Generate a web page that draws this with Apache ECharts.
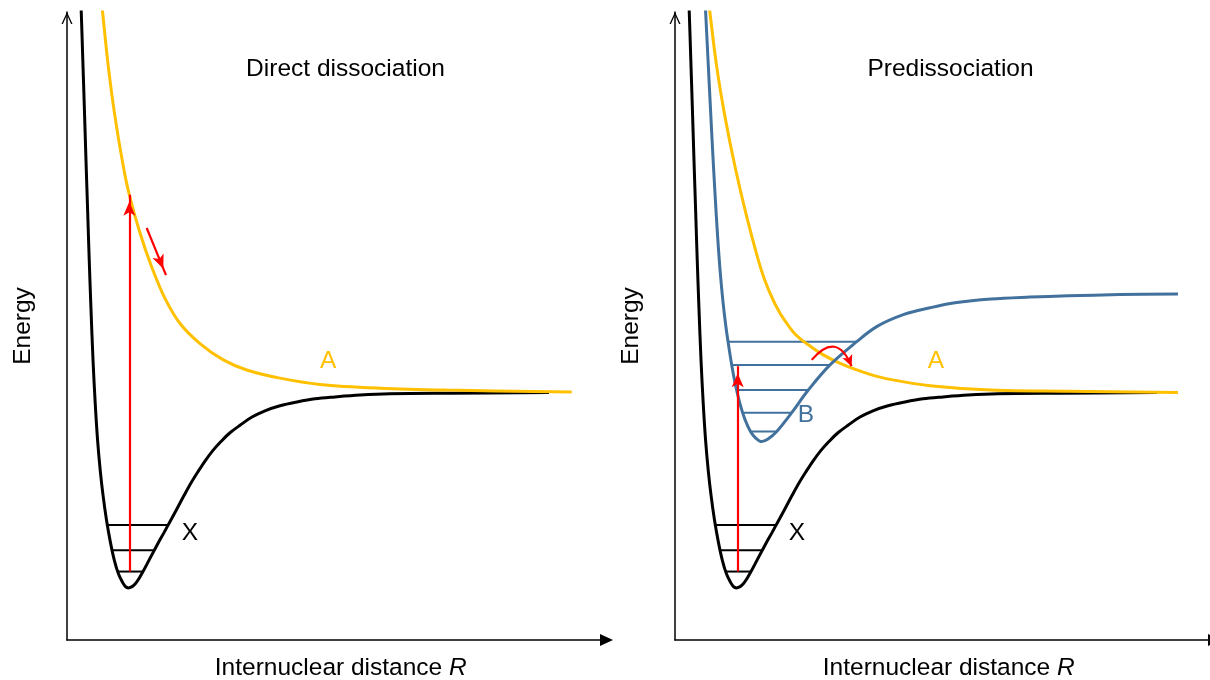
<!DOCTYPE html>
<html>
<head>
<meta charset="utf-8">
<script src="https://cdn.jsdelivr.net/npm/echarts@6/dist/echarts.min.js"></script>
<style>
  html, body { margin: 0; padding: 0; background: #ffffff; }
  #chart { width: 1210px; height: 680px; }
</style>
</head>
<body>
<div id="chart"></div>
<script>
// Potential energy curves, [R, E] in arbitrary units (axes run 0..10).

// Ground state X (same in both panels)
const groundX = [
  [0.252, 10.27], [0.265, 9.98], [0.293, 9.24], [0.323, 8.44], [0.352, 7.64],
  [0.382, 6.85], [0.412, 6.05], [0.445, 5.26], [0.482, 4.46], [0.525, 3.74],
  [0.567, 3.18], [0.615, 2.71], [0.667, 2.31], [0.732, 1.91], [0.806, 1.55],
  [0.880, 1.26], [0.955, 1.05], [1.029, 0.92], [1.084, 0.85], [1.136, 0.83],
  [1.205, 0.85], [1.270, 0.90], [1.335, 0.98], [1.409, 1.09], [1.538, 1.30],
  [1.668, 1.51], [1.798, 1.71], [1.918, 1.90], [2.039, 2.09], [2.169, 2.30],
  [2.298, 2.50], [2.428, 2.68], [2.558, 2.85], [2.706, 3.02], [2.854, 3.16],
  [3.021, 3.30], [3.207, 3.42], [3.429, 3.55], [3.670, 3.65], [3.948, 3.73],
  [4.263, 3.79], [4.597, 3.84], [4.968, 3.87], [5.431, 3.90], [5.987, 3.92],
  [7.099, 3.93], [8.934, 3.94]
];
// Vibrational levels of X: [E, R left, R right]
const groundLevels = [
  [1.83, 0.749, 1.871],
  [1.43, 0.835, 1.624],
  [1.09, 0.937, 1.409]
];

// Repulsive state A, left panel
const repulsiveDirect = [
  [0.628, 10.27], [0.662, 9.98], [0.766, 9.13], [0.890, 8.33], [1.044, 7.54],
  [1.155, 7.09], [1.353, 6.48], [1.570, 5.94], [1.816, 5.44], [2.095, 5.04],
  [2.465, 4.72], [2.897, 4.46], [3.331, 4.30], [3.948, 4.17], [4.690, 4.07],
  [5.802, 4.01], [7.038, 3.98], [9.355, 3.95]
];

// Repulsive state A, right panel
const repulsivePre = [
  [0.615, 10.27], [0.649, 9.98], [0.773, 9.13], [0.927, 8.33], [1.112, 7.54],
  [1.329, 6.74], [1.544, 6.05], [1.668, 5.72], [1.798, 5.45], [1.928, 5.23],
  [2.057, 5.06], [2.187, 4.91], [2.317, 4.80], [2.521, 4.67], [2.749, 4.54],
  [3.021, 4.42], [3.305, 4.32], [3.614, 4.23], [3.985, 4.15], [4.727, 4.05],
  [5.857, 3.98], [7.284, 3.96], [9.323, 3.94]
];

// Bound excited state B, right panel
const boundB = [
  [0.552, 10.27], [0.569, 9.98], [0.612, 9.24], [0.654, 8.52], [0.697, 7.80],
  [0.741, 7.12], [0.788, 6.45], [0.838, 5.86], [0.890, 5.38], [0.945, 4.98],
  [1.001, 4.65], [1.057, 4.35], [1.121, 4.06], [1.205, 3.76], [1.297, 3.51],
  [1.399, 3.32], [1.492, 3.22], [1.607, 3.16], [1.724, 3.20], [1.885, 3.32],
  [2.163, 3.62], [2.471, 3.98], [2.873, 4.38], [3.368, 4.75], [3.739, 4.99],
  [4.232, 5.18], [4.727, 5.29], [5.190, 5.37], [5.857, 5.43], [6.580, 5.46],
  [7.284, 5.48], [8.248, 5.50], [9.323, 5.51]
];
// Vibrational levels of B: [E, R left, R right]
const boundLevels = [
  [4.75, 0.984, 3.368],
  [4.38, 1.051, 2.873],
  [3.98, 1.144, 2.471],
  [3.62, 1.257, 2.163],
  [3.32, 1.402, 1.885]
];

// Arrows: [start, end] as [R, E]
const excitationDirect = [[1.155, 1.09], [1.155, 7.09]];
const slideDirect = [[1.477, 6.56], [1.835, 5.81]];
const excitationPre = [[1.162, 1.09], [1.162, 4.36]];
const crossingPre = [[2.534, 4.46], [3.272, 4.36]];

// State labels: [text, R, E, colour]
const labelsDirect = [['A', 4.843, 4.44, '#FFC000'], ['X', 2.280, 1.70, '#000000']];
const labelsPre = [['A', 4.838, 4.44, '#FFC000'], ['B', 2.428, 3.58, '#41719C'], ['X', 2.261, 1.70, '#000000']];

const panelTitles = ['Direct dissociation', 'Predissociation'];
const xName = 'Internuclear distance {it|R}';
const yName = 'Energy';

const FONT = "'Liberation Sans', Arial, sans-serif";
const FS = 24.5;
const BLACK = '#000000', GOLD = '#FFC000', BLUE = '#41719C', RED = '#FF0000';

function curve(data, color, g) {
  return {
    type: 'line', xAxisIndex: g, yAxisIndex: g, data: data,
    symbol: 'none', showSymbol: false, smooth: 0.35,
    lineStyle: { color: color, width: 3 }, silent: true, clip: true, z: 3
  };
}
function levels(list, color, g) {
  return list.map(function (l) {
    return {
      type: 'line', xAxisIndex: g, yAxisIndex: g,
      data: [[l[1], l[0]], [l[2], l[0]]],
      symbol: 'none', showSymbol: false,
      lineStyle: { color: color, width: 2 }, silent: true, z: 2
    };
  });
}
function straightArrows(list, g) {
  return {
    type: 'line', xAxisIndex: g, yAxisIndex: g, data: [], silent: true, z: 6,
    markLine: {
      silent: true, animation: false,
      symbol: ['none', 'arrow'],
      label: { show: false },
      emphasis: { disabled: true },
      lineStyle: { color: RED, width: 2.2, type: 'solid' },
      data: list.map(function (a) {
        return [
          { coord: a[0], symbol: 'none' },
          { coord: a[1], symbol: 'arrow', symbolSize: [9, 14], symbolOffset: [0, 7] }
        ];
      })
    }
  };
}
function stateLabels(list, g) {
  return {
    type: 'scatter', xAxisIndex: g, yAxisIndex: g, silent: true, z: 7,
    symbolSize: 1, itemStyle: { color: 'rgba(0,0,0,0)', opacity: 1 },
    data: list.map(function (l) {
      return { name: l[0], value: [l[1], l[2]], label: { color: l[3] } };
    }),
    label: { show: true, position: 'inside', formatter: '{b}', fontSize: FS, fontFamily: FONT,
      opacity: 1, textBorderWidth: 0 }
  };
}

const axisText = { fontSize: FS, color: BLACK, fontFamily: FONT };
function xAxis(g) {
  return {
    gridIndex: g, type: 'value', min: 0, max: 10,
    axisLine: { show: true, onZero: false, symbol: ['none', 'triangle'], symbolSize: [12, 13],
      lineStyle: { color: BLACK, width: 1.5 } },
    axisTick: { show: false }, axisLabel: { show: false }, splitLine: { show: false },
    name: xName, nameLocation: 'middle', nameGap: 16,
    nameTextStyle: Object.assign({ padding: [0, 0, 0, 8],
      rich: { it: { fontStyle: 'italic', fontSize: FS, color: BLACK, fontFamily: FONT } } }, axisText)
  };
}
function yAxis(g) {
  return {
    gridIndex: g, type: 'value', min: 0, max: 10,
    axisLine: { show: true, onZero: false,
      symbol: ['none', 'path://M0,12 L5.5,0 L11,12 L9.6,12 L5.5,3 L1.4,12 Z'],
      symbolSize: [11, 12], symbolOffset: [0, -6],
      lineStyle: { color: BLACK, width: 1.5 } },
    axisTick: { show: false }, axisLabel: { show: false }, splitLine: { show: false },
    name: yName, nameLocation: 'middle', nameGap: 31, nameTextStyle: axisText
  };
}

const series = [].concat(
  [curve(groundX, BLACK, 0)], levels(groundLevels, BLACK, 0),
  [curve(repulsiveDirect, GOLD, 0)],
  [straightArrows([excitationDirect, slideDirect], 0)],
  [stateLabels(labelsDirect, 0)],

  [curve(groundX, BLACK, 1)], levels(groundLevels, BLACK, 1),
  [curve(repulsivePre, GOLD, 1)],
  [curve(boundB, BLUE, 1)], levels(boundLevels, BLUE, 1),
  [straightArrows([excitationPre], 1)],
  [{
    type: 'lines', coordinateSystem: 'cartesian2d', xAxisIndex: 1, yAxisIndex: 1,
    silent: true, z: 6, polyline: false,
    symbol: ['none', 'arrow'], symbolSize: [0, [8, 11]],
    lineStyle: { color: RED, width: 2.2, opacity: 1, curveness: 0.82 },
    data: [{ coords: crossingPre }]
  }],
  [stateLabels(labelsPre, 1)]
);

const chart = echarts.init(document.getElementById('chart'), null, { renderer: 'canvas' });
chart.setOption({
  backgroundColor: '#ffffff',
  animation: false,
  title: panelTitles.map(function (t, i) {
    return {
      text: t, left: [345.5, 950.5][i], top: 57, textAlign: 'center', padding: 0,
      textStyle: { fontSize: FS, fontWeight: 'normal', color: BLACK, fontFamily: FONT }
    };
  }),
  grid: [
    { left: 67, top: 12, width: 539.5, height: 628, outerBoundsMode: 'none', containLabel: false },
    { left: 675, top: 12, width: 539.5, height: 628, outerBoundsMode: 'none', containLabel: false }
  ],
  xAxis: [xAxis(0), xAxis(1)],
  yAxis: [yAxis(0), yAxis(1)],
  series: series
});
</script>
</body>
</html>
